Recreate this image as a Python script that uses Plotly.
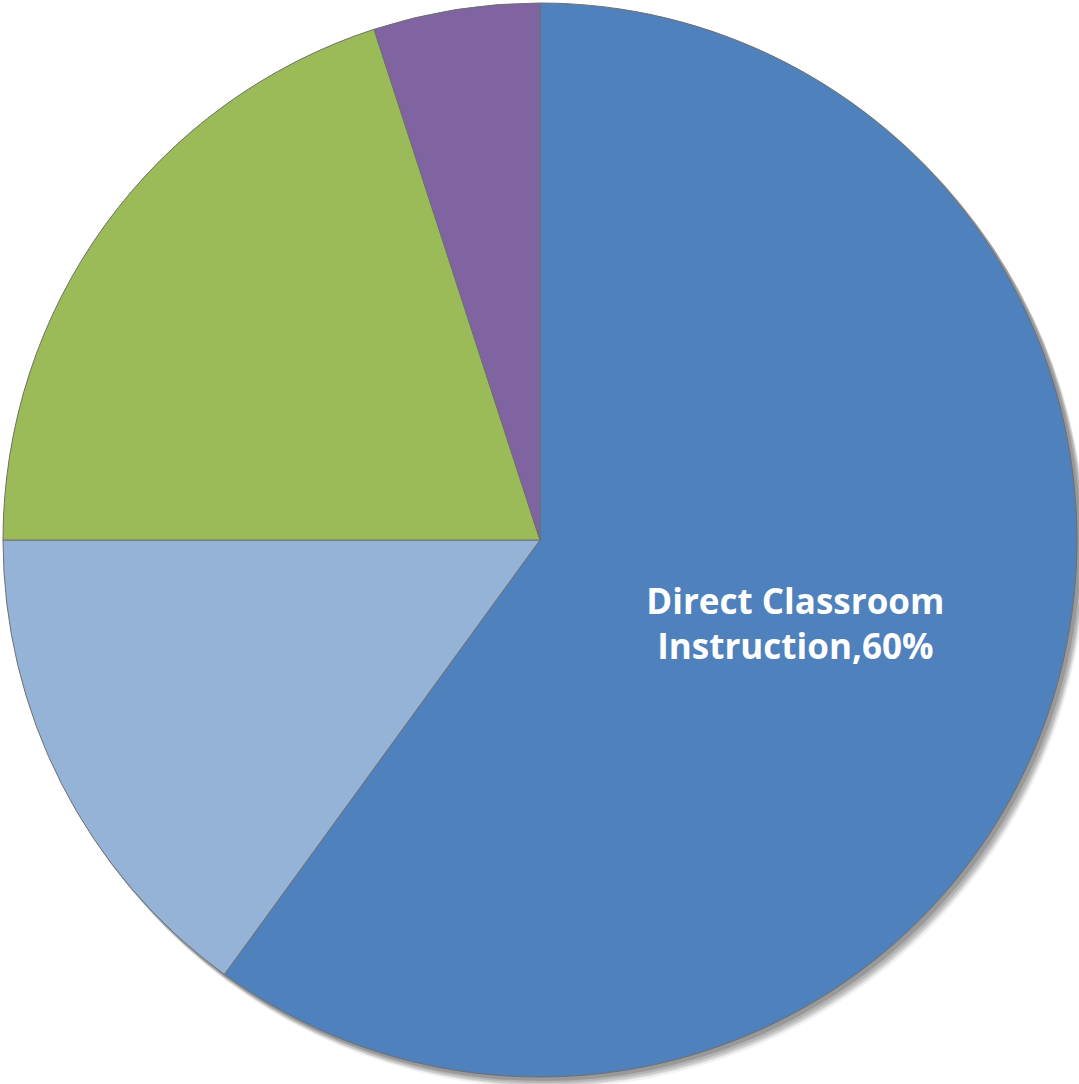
import plotly.graph_objects as go

labels = ["Direct Classroom Instruction", "Instructional Support", "Planning & Preparation", "Other Duties"]
values = [60, 15, 20, 5]
colors = ["#4F81BD", "#95B3D7", "#9BBB59", "#8064A2"]
shown_text = ["Direct Classroom<br>Instruction,60%", "", "", ""]

W, H = 1079, 1084
cx, cy, r = 540, 540, 537

fig = go.Figure(go.Pie(
    labels=labels,
    values=values,
    sort=False,
    direction="clockwise",
    rotation=0,
    marker=dict(colors=colors, line=dict(color="#6f6f6f", width=1)),
    text=shown_text,
    textinfo="text",
    textposition="inside",
    insidetextorientation="horizontal",
    textfont=dict(family="Open Sans", size=35, color="white", weight="bold"),
    showlegend=False,
    hoverinfo="label+percent",
    domain=dict(x=[(cx - r) / W, (cx + r) / W], y=[1 - (cy + r) / H, 1 - (cy - r) / H]),
))

shapes = []
for dx, dy, a in [(8, 10, 0.05), (7, 8, 0.07), (6, 7, 0.09), (5, 5, 0.11), (3, 3, 0.15)]:
    x = cx + dx
    y = cy + dy
    rr = r + 1
    shapes.append(dict(type="circle", xref="paper", yref="paper", layer="below",
                       x0=(x - rr) / W, x1=(x + rr) / W,
                       y0=1 - (y + rr) / H, y1=1 - (y - rr) / H,
                       fillcolor=f"rgba(0,0,0,{a})", line=dict(width=0)))

fig.update_layout(
    width=W, height=H,
    margin=dict(l=0, r=0, t=0, b=0),
    paper_bgcolor="white",
    plot_bgcolor="white",
    shapes=shapes,
)

fig.write_html("out.html")
